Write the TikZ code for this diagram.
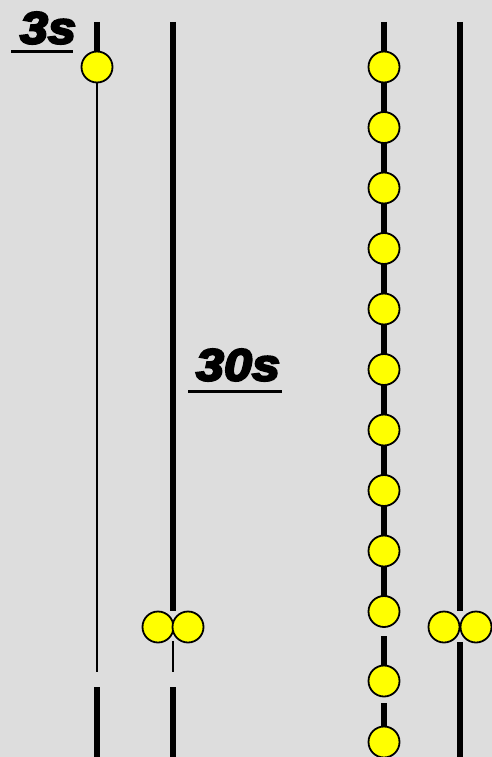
\documentclass[tikz,border=0pt]{standalone}
\usepackage{fontspec}
\usetikzlibrary{positioning, calc}
\usepackage{xcolor}
\definecolor{bggray}{HTML}{DDDDDD}
\definecolor{dotyellow}{HTML}{FFFF00}
\newfontfamily\heavyfont[FakeBold=5, FakeStretch=1.12]{Liberation Sans Bold Italic}

\begin{document}
\begin{tikzpicture}[x=1pt, y=-1pt,
    dot/.style={circle, draw=black, fill=dotyellow, line width=1.8pt, minimum size=31pt, inner sep=0pt},
    thick rail/.style={line width=5.2pt},
    thin rail/.style={line width=1.6pt},
    tag/.style={font=\heavyfont\fontsize{45}{45}\selectfont, inner sep=0pt},
    uline/.style={line width=3pt}]
        \fill[bggray] (0,0) rectangle (492,757);
        \useasboundingbox (0,0) rectangle (492,757);
        % first rail
        \coordinate (a0) at (97,22);
        \coordinate (a2) at (97,672);
        \coordinate (a3) at (97,687);
        \coordinate (a4) at (97,757);
        \draw[thick rail] (a0) -- (97,67);
        \draw[thin rail] (97,67) -- (a2);
        \draw[thick rail] (a3) -- (a4);
        \node[dot] (a1) at (97,67) {};
        % second rail
        \coordinate (b0) at (173,22);
        \coordinate (b3) at (173,611);
        \coordinate (b4) at (173,641);
        \coordinate (b5) at (173,672);
        \coordinate (b6) at (173,687);
        \coordinate (b7) at (173,757);
        \draw[thick rail] (b0) -- (b3);
        \draw[thin rail] (b4) -- (b5);
        \draw[thick rail] (b6) -- (b7);
        \node[dot] (b1) at (158,627) {};
        \node[dot] (b2) at (188,627) {};
        % third rail
        \coordinate (c0) at (384,22);
        \draw[thick rail] (c0) -- (384,612);
        \foreach \i in {1,...,10}
          \node[dot] (c\i) at (384,{67+60.5*(\i-1)}) {};
        \coordinate (c13) at (384,636);
        \coordinate (c14) at (384,703);
        \node[dot] (c11) at (384,681) {};
        \node[dot] (c12) at (384,742) {};
        \draw[thick rail] (c13) -- (c11);
        \draw[thick rail] (c14) -- (c12);
        % fourth rail
        \coordinate (d0) at (460,22);
        \coordinate (d3) at (460,611);
        \coordinate (d4) at (460,642);
        \coordinate (d5) at (460,757);
        \draw[thick rail] (d0) -- (d3);
        \draw[thick rail] (d4) -- (d5);
        \node[dot] (d1) at (444,627) {};
        \node[dot] (d2) at (476,627) {};
        % labels
        \node[tag] (t3) at (48,28) {3s};
        \node[tag] (t30) at (238,365) {30s};
        \draw[uline] (11,52) -- (73,52);
        \draw[uline] (188,391) -- (282,391);
      \end{tikzpicture}
\end{document}
